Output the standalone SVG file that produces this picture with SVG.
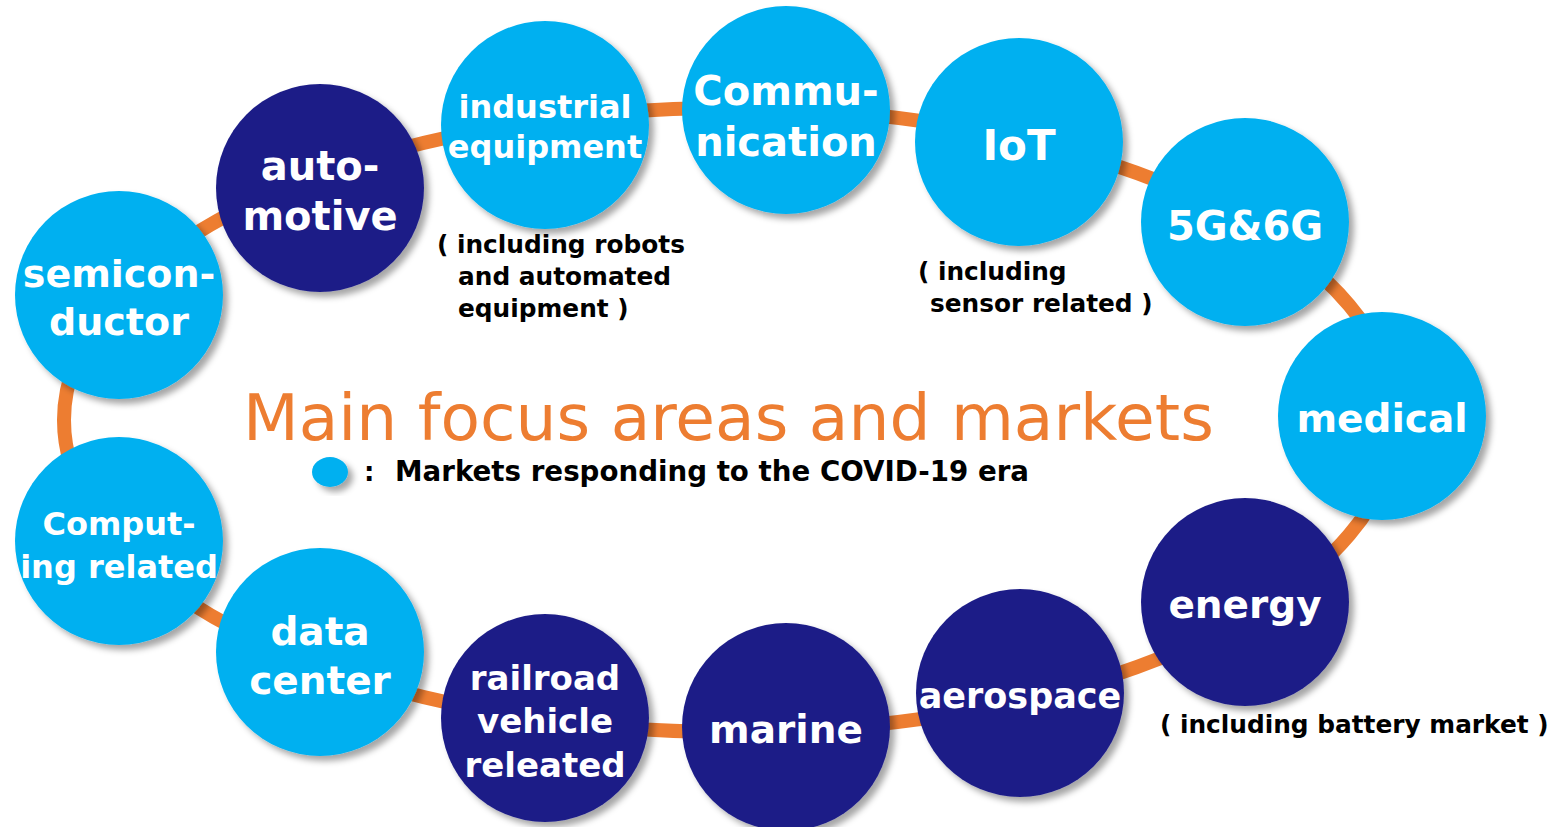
<svg xmlns="http://www.w3.org/2000/svg" width="1556" height="827" viewBox="0 0 1556 827">
<defs>
<filter id="sh" x="-20%" y="-20%" width="150%" height="150%">
<feDropShadow dx="5" dy="5" stdDeviation="3" flood-color="#000" flood-opacity="0.35"/>
</filter>
<style>
.lb{fill:#00B0F0;filter:url(#sh)}
.dk{fill:#1F1F87;filter:url(#sh)}
.t{font-family:"DejaVu Sans",Verdana,sans-serif;font-weight:bold;fill:#fff;text-anchor:middle}
.n{font-family:"DejaVu Sans",Verdana,sans-serif;font-weight:bold;fill:#000;font-size:24.8px}
.ring{fill:none;stroke:#ED7D31;stroke-width:14}
</style>
</defs>
<rect width="1556" height="827" fill="#fff"/>
<g id="connectors">
<ellipse class="ring" cx="730" cy="420" rx="666" ry="312"/>
</g>
<g id="semiconductor"><circle class="lb" cx="119" cy="295" r="104"/><text class="t" font-size="38" x="119" y="287">semicon-</text><text class="t" font-size="38" x="119" y="335">ductor</text></g>
<g id="automotive"><circle class="dk" cx="320" cy="188" r="104"/><text class="t" font-size="40" x="320" y="180">auto-</text><text class="t" font-size="40" x="320" y="230">motive</text></g>
<g id="industrial"><circle class="lb" cx="545" cy="125" r="104"/><text class="t" font-size="32" x="545" y="118">industrial</text><text class="t" font-size="32" x="545" y="158">equipment</text></g>
<g id="communication"><circle class="lb" cx="786" cy="110" r="104"/><text class="t" font-size="40" x="786" y="105">Commu-</text><text class="t" font-size="40" x="786" y="156">nication</text></g>
<g id="iot"><circle class="lb" cx="1019" cy="142" r="104"/><text class="t" font-size="42" x="1019" y="160">IoT</text></g>
<g id="g5g6g"><circle class="lb" cx="1245" cy="222" r="104"/><text class="t" font-size="40" x="1245" y="240">5G&amp;6G</text></g>
<g id="medical"><circle class="lb" cx="1382" cy="416" r="104"/><text class="t" font-size="39" x="1382" y="432">medical</text></g>
<g id="energy"><circle class="dk" cx="1245" cy="602" r="104"/><text class="t" font-size="39" x="1245" y="618">energy</text></g>
<g id="aerospace"><circle class="dk" cx="1020" cy="693" r="104"/><text class="t" font-size="35" x="1020" y="708">aerospace</text></g>
<g id="marine"><circle class="dk" cx="786" cy="727" r="104"/><text class="t" font-size="39" x="786" y="743">marine</text></g>
<g id="railroad"><circle class="dk" cx="545" cy="718" r="104"/><text class="t" font-size="34" x="545" y="690">railroad</text><text class="t" font-size="34" x="545" y="733">vehicle</text><text class="t" font-size="34" x="545" y="777">releated</text></g>
<g id="datacenter"><circle class="lb" cx="320" cy="652" r="104"/><text class="t" font-size="39" x="320" y="645">data</text><text class="t" font-size="39" x="320" y="694">center</text></g>
<g id="computing"><circle class="lb" cx="119" cy="541" r="104"/><text class="t" font-size="32" x="119" y="535">Comput-</text><text class="t" font-size="32" x="119" y="578">ing related</text></g>
<g id="notes">
<text class="n" x="437" y="253">( including robots</text>
<text class="n" x="458" y="285">and automated</text>
<text class="n" x="458" y="317">equipment )</text>
<text class="n" x="918" y="280">( including</text>
<text class="n" x="930" y="312">sensor related )</text>
<text class="n" x="1160" y="733">( including battery market )</text>
</g>
<g id="title">
<text x="243" y="440" font-family="'DejaVu Sans',Verdana,sans-serif" font-size="64.6" fill="#ED7D31">Main focus areas and markets</text>
</g>
<g id="legend">
<ellipse class="lb" cx="330" cy="472" rx="18" ry="15"/>
<text class="n" x="364" y="481" style="font-size:26px">:</text>
<text class="n" x="395" y="481" style="font-size:27.7px">Markets responding to the COVID-19 era</text>
</g>
</svg>
